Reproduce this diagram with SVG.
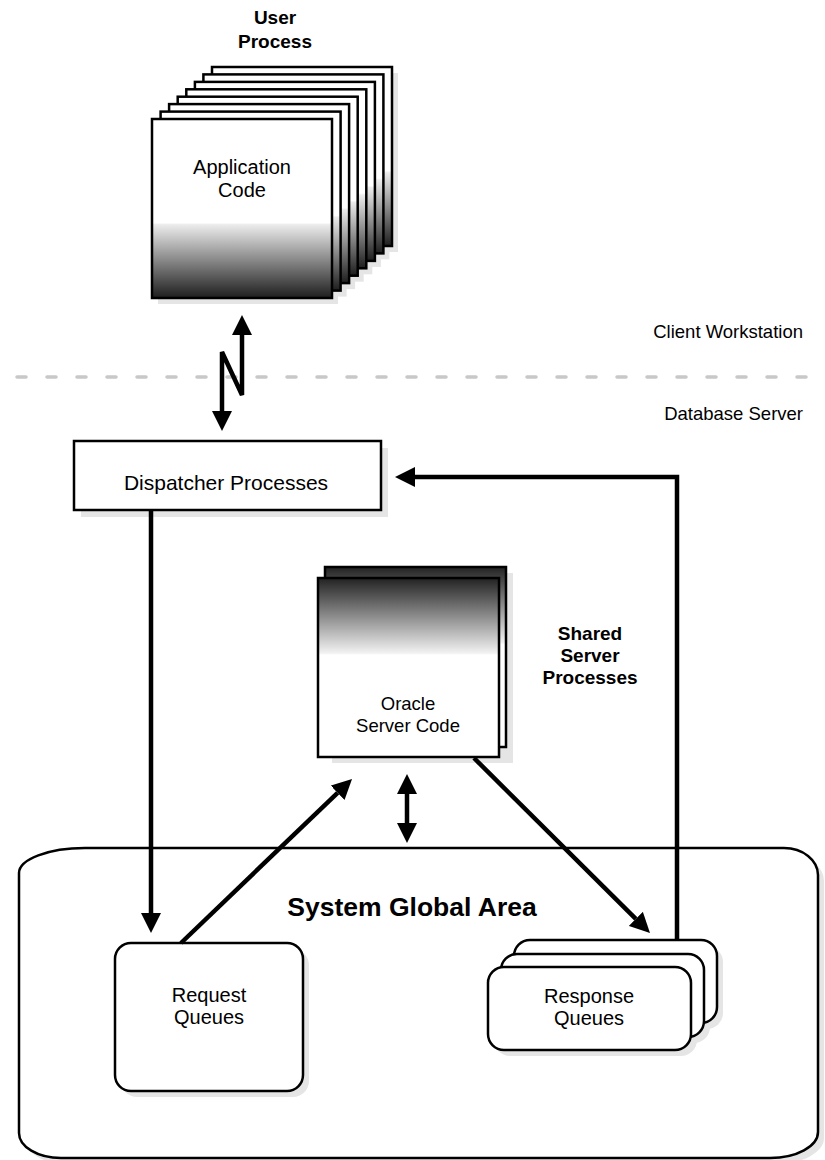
<svg xmlns="http://www.w3.org/2000/svg" xmlns:xlink="http://www.w3.org/1999/xlink" width="825" height="1160" viewBox="0 0 825 1160">
<style>
.t{font-family:"Liberation Sans",Arial,Helvetica,sans-serif;font-size:20px;fill:#000;text-anchor:middle}
.b{font-weight:bold}
.r{text-anchor:end;font-size:18.5px}
.box{fill:#fff;stroke:#000;stroke-width:2.5}
.sh{fill:#e5e5e5;stroke:none}
.conn{fill:none;stroke:#000;stroke-width:4.5;stroke-linejoin:miter}
</style>
<defs>
<linearGradient id="gUser" x1="0" y1="0" x2="0" y2="1">
<stop offset="0" stop-color="#fff"/>
<stop offset="0.58" stop-color="#fff"/>
<stop offset="0.59" stop-color="#ececec"/>
<stop offset="1" stop-color="#1e1e1e"/>
</linearGradient>
<linearGradient id="gOra" x1="0" y1="0" x2="0" y2="1">
<stop offset="0" stop-color="#222"/>
<stop offset="0.42" stop-color="#f2f2f2"/>
<stop offset="0.43" stop-color="#fff"/>
<stop offset="1" stop-color="#fff"/>
</linearGradient>
<marker id="ah" viewBox="0 0 20 20" refX="0" refY="10" markerWidth="20" markerHeight="20" markerUnits="userSpaceOnUse" orient="auto-start-reverse">
<path d="M0,0 L20,10 L0,20 Z" fill="#000"/>
</marker>
</defs>
<rect width="825" height="1160" fill="#fff"/>

<!-- separator -->
<line x1="0" y1="377" x2="825" y2="377" stroke="#c8c8c8" stroke-width="3.5" stroke-dasharray="9 21" stroke-dashoffset="13" stroke-linecap="round"/>
<text class="t r" x="803" y="338">Client Workstation</text>
<text class="t r" x="803" y="420">Database Server</text>

<!-- SGA -->
<g id="sga">
<path class="sh" d="M91,854 H790 A38,27 0 0 1 824,881 V1138 A48,26 0 0 1 776,1164 H67 A42,25 0 0 1 25,1139 V879 A66,25 0 0 1 91,854 Z"/>
<path class="box" d="M85,848 H784 A34,27 0 0 1 818,875 V1132 A48,26 0 0 1 770,1158 H61 A42,25 0 0 1 19,1133 V873 A66,25 0 0 1 85,848 Z"/>
<text class="t b" x="412" y="916" style="font-size:26.5px">System Global Area</text>
</g>

<!-- User process -->
<g id="user-process">
<text class="t b" x="275" y="24" style="font-size:19px">User</text>
<text class="t b" x="275" y="48" style="font-size:19px">Process</text>
<g class="sh">
<rect x="218" y="73" width="180" height="179"/>
<rect x="209.4" y="80.4" width="180" height="179"/>
<rect x="200.9" y="87.9" width="180" height="179"/>
<rect x="192.3" y="95.3" width="180" height="179"/>
<rect x="183.7" y="102.7" width="180" height="179"/>
<rect x="175.1" y="110.1" width="180" height="179"/>
<rect x="166.6" y="117.6" width="180" height="179"/>
<rect x="158" y="125" width="180" height="179"/>
</g>
<g fill="url(#gUser)" stroke="#000" stroke-width="2.5">
<rect x="212" y="67" width="180" height="179"/>
<rect x="203.4" y="74.4" width="180" height="179"/>
<rect x="194.9" y="81.9" width="180" height="179"/>
<rect x="186.3" y="89.3" width="180" height="179"/>
<rect x="177.7" y="96.7" width="180" height="179"/>
<rect x="169.1" y="104.1" width="180" height="179"/>
<rect x="160.6" y="111.6" width="180" height="179"/>
<rect x="152" y="119" width="180" height="179"/>
</g>
<text class="t" x="242" y="174" style="font-size:20px">Application</text>
<text class="t" x="242" y="197" style="font-size:20px">Code</text>
</g>

<!-- Dispatcher -->
<g id="dispatcher">
<rect class="sh" x="81" y="448" width="307" height="69"/>
<rect class="box" x="74" y="441" width="307" height="69"/>
<text class="t" x="226" y="490" style="font-size:21px">Dispatcher Processes</text>
</g>

<!-- Oracle server code -->
<g id="oracle-server">
<rect class="sh" x="332" y="573" width="181" height="190"/>
<rect x="325" y="567" width="181" height="180" fill="url(#gOra)" stroke="#000" stroke-width="2.5"/>
<rect x="318" y="578" width="181" height="179" fill="url(#gOra)" stroke="#000" stroke-width="2.5"/>
<text class="t" x="408" y="710" style="font-size:18.5px">Oracle</text>
<text class="t" x="408" y="732" style="font-size:18.5px">Server Code</text>
</g>
<g id="shared-label">
<text class="t b" x="590" y="640" style="font-size:19px">Shared</text>
<text class="t b" x="590" y="662" style="font-size:19px">Server</text>
<text class="t b" x="590" y="684" style="font-size:19px">Processes</text>
</g>

<!-- Request queues -->
<g id="request-queues">
<rect class="sh" x="121" y="949" width="188" height="148" rx="16" ry="16"/>
<rect class="box" x="115" y="943" width="188" height="148" rx="16" ry="16"/>
<text class="t" x="209" y="1002">Request</text>
<text class="t" x="209" y="1024">Queues</text>
</g>

<!-- Response queues -->
<g id="response-queues">
<rect class="sh" x="520" y="946" width="203" height="83" rx="16" ry="16"/>
<rect class="sh" x="507" y="960" width="203" height="83" rx="16" ry="16"/>
<rect class="sh" x="494" y="973" width="203" height="83" rx="16" ry="16"/>
<rect class="box" x="514" y="940" width="203" height="83" rx="16" ry="16"/>
<rect class="box" x="501" y="954" width="203" height="83" rx="16" ry="16"/>
<rect class="box" x="488" y="967" width="203" height="83" rx="16" ry="16"/>
<text class="t" x="589" y="1003">Response</text>
<text class="t" x="589" y="1025">Queues</text>
</g>

<!-- connectors -->
<g id="connectors" class="conn">
<path d="M242,335 V395 L222,352 V411" marker-start="url(#ah)" marker-end="url(#ah)"/>
<path d="M151,510 V913" marker-end="url(#ah)"/>
<path d="M181,943 L337.6,792.8" marker-end="url(#ah)"/>
<path d="M407,794 V823" marker-start="url(#ah)" marker-end="url(#ah)"/>
<path d="M474,758 L635.8,918.9" marker-end="url(#ah)"/>
<path d="M677,940 V477 H415" marker-end="url(#ah)"/>
</g>
</svg>
